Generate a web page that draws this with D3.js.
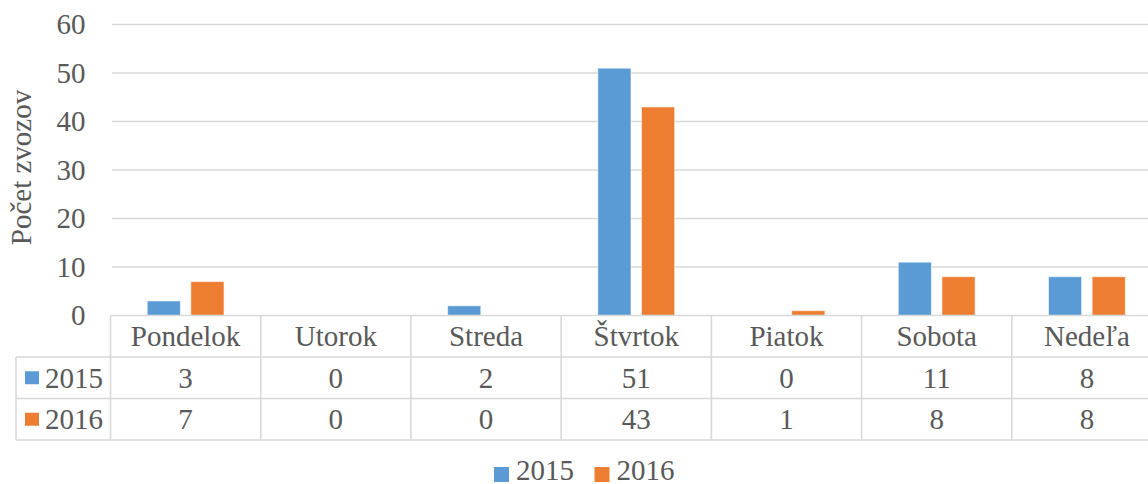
<!DOCTYPE html>
<html>
<head>
<meta charset="utf-8">
<script src="https://cdn.jsdelivr.net/npm/d3@7"></script>
<style>
  html, body { margin: 0; padding: 0; background: #fff; }
  svg { display: block; }
  svg text { font-family: "Liberation Serif", Tinos, "Times New Roman", serif !important; }
</style>
</head>
<body>
<div id="chart"></div>
<script>
const days = ['Pondelok', 'Utorok', 'Streda', 'Štvrtok', 'Piatok', 'Sobota', 'Nedeľa'];
const seriesNames = ['2015', '2016'];
const values2015 = [3, 0, 2, 51, 0, 11, 8];
const values2016 = [7, 0, 0, 43, 1, 8, 8];
const yTicks = [0, 10, 20, 30, 40, 50, 60];
const colors = ['#5B9BD5', '#ED7D31'];

const width = 1148, height = 484;
const plotTop = 24.5, plotBottom = 315.5;
const tableLeft = 16, plotLeft = 110.5, plotRight = 1162;
const rowH = 41.5;
const gridColor = '#D9D9D9';
const textColor = '#595959';
const fontFamily = 'Liberation Serif';
const fontSize = 29;

const rows = seriesNames.map((name, i) => ({
    name: name,
    color: colors[i],
    values: [values2015, values2016][i]
}));

const svg = d3.select('#chart').append('svg')
    .attr('width', width)
    .attr('height', height)
    .attr('font-family', fontFamily);

const styleText = sel => sel
    .attr('font-family', fontFamily)
    .attr('font-size', fontSize)
    .attr('fill', textColor);

const x0 = d3.scaleBand().domain(days).range([plotLeft, plotRight]);
const x1 = d3.scaleBand().domain(seriesNames).range([0, x0.bandwidth()])
    .paddingInner(0.24).paddingOuter(0.84);
const y = d3.scaleLinear().domain([0, 60]).range([plotBottom, plotTop]);

// gridlines
svg.append('g')
    .selectAll('line')
    .data(yTicks.filter(d => d > 0))
    .join('line')
        .attr('x1', plotLeft + 1.5)
        .attr('x2', width)
        .attr('y1', d => y(d))
        .attr('y2', d => y(d))
        .attr('stroke', gridColor)
        .attr('stroke-width', 1.3);

// y axis labels
const yAxis = svg.append('g')
    .attr('transform', `translate(${plotLeft - 25},0)`)
    .call(d3.axisLeft(y).tickValues(yTicks).tickSize(0).tickPadding(0));
yAxis.select('.domain').remove();
yAxis.attr('font-family', fontFamily).attr('font-size', fontSize);
yAxis.selectAll('text').call(styleText);

svg.append('text')
    .attr('transform', `translate(31,167.5) rotate(-90)`)
    .attr('text-anchor', 'middle')
    .call(styleText)
    .text('Počet zvozov');

// bars
svg.append('g')
    .selectAll('g')
    .data(rows)
    .join('g')
        .attr('fill', d => d.color)
    .selectAll('rect')
    .data(d => d.values.map((v, i) => ({ day: days[i], value: v, name: d.name })))
    .join('rect')
        .attr('x', d => x0(d.day) + x1(d.name))
        .attr('width', x1.bandwidth())
        .attr('y', d => y(d.value))
        .attr('height', d => y(0) - y(d.value))
        .attr('stroke', d => d.value > 0 ? '#fff' : 'none')
        .attr('stroke-opacity', 0.6)
        .attr('stroke-width', 1);

// data table
const table = svg.append('g');
const border = (ax, ay, bx, by) => table.append('line')
    .attr('x1', ax).attr('y1', ay).attr('x2', bx).attr('y2', by)
    .attr('stroke', gridColor).attr('stroke-width', 1.6);

const rowTops = [0, 1, 2, 3].map(i => plotBottom + i * rowH);
border(plotLeft, rowTops[0], plotRight, rowTops[0]);
rowTops.slice(1).forEach(t => border(tableLeft, t, plotRight, t));
border(tableLeft, rowTops[1], tableLeft, rowTops[3]);
days.forEach(d => border(x0(d), rowTops[0], x0(d), rowTops[3]));
border(plotRight, rowTops[0], plotRight, rowTops[3]);

table.selectAll('text.cat')
    .data(days)
    .join('text')
        .attr('class', 'cat')
        .attr('x', d => x0(d) + x0.bandwidth() / 2)
        .attr('y', rowTops[0] + rowH / 2 + 9.5)
        .attr('text-anchor', 'middle')
        .call(styleText)
        .text(d => d);

rows.forEach((r, i) => {
    const top = rowTops[i + 1];
    table.append('rect')
        .attr('x', 25)
        .attr('y', top + rowH / 2 - 6.5)
        .attr('width', 14)
        .attr('height', 13)
        .attr('fill', r.color);
    table.append('text')
        .attr('x', 45)
        .attr('y', top + rowH / 2 + 10)
        .call(styleText)
        .text(r.name);
    table.selectAll(null)
        .data(r.values)
        .join('text')
            .attr('x', (v, j) => x0(days[j]) + x0.bandwidth() / 2)
            .attr('y', top + rowH / 2 + 10)
            .attr('text-anchor', 'middle')
            .call(styleText)
            .text(v => v);
});

// legend
const legend = svg.append('g').attr('transform', 'translate(494,467)');
const legendItems = legend.selectAll('g')
    .data(rows)
    .join('g')
        .attr('transform', (d, i) => `translate(${i * 100.5},0)`);
legendItems.append('rect')
    .attr('width', 15)
    .attr('height', 15)
    .attr('fill', d => d.color);
legendItems.append('text')
    .attr('x', 22)
    .attr('y', 13)
    .call(styleText)
    .text(d => d.name);
</script>
</body>
</html>
